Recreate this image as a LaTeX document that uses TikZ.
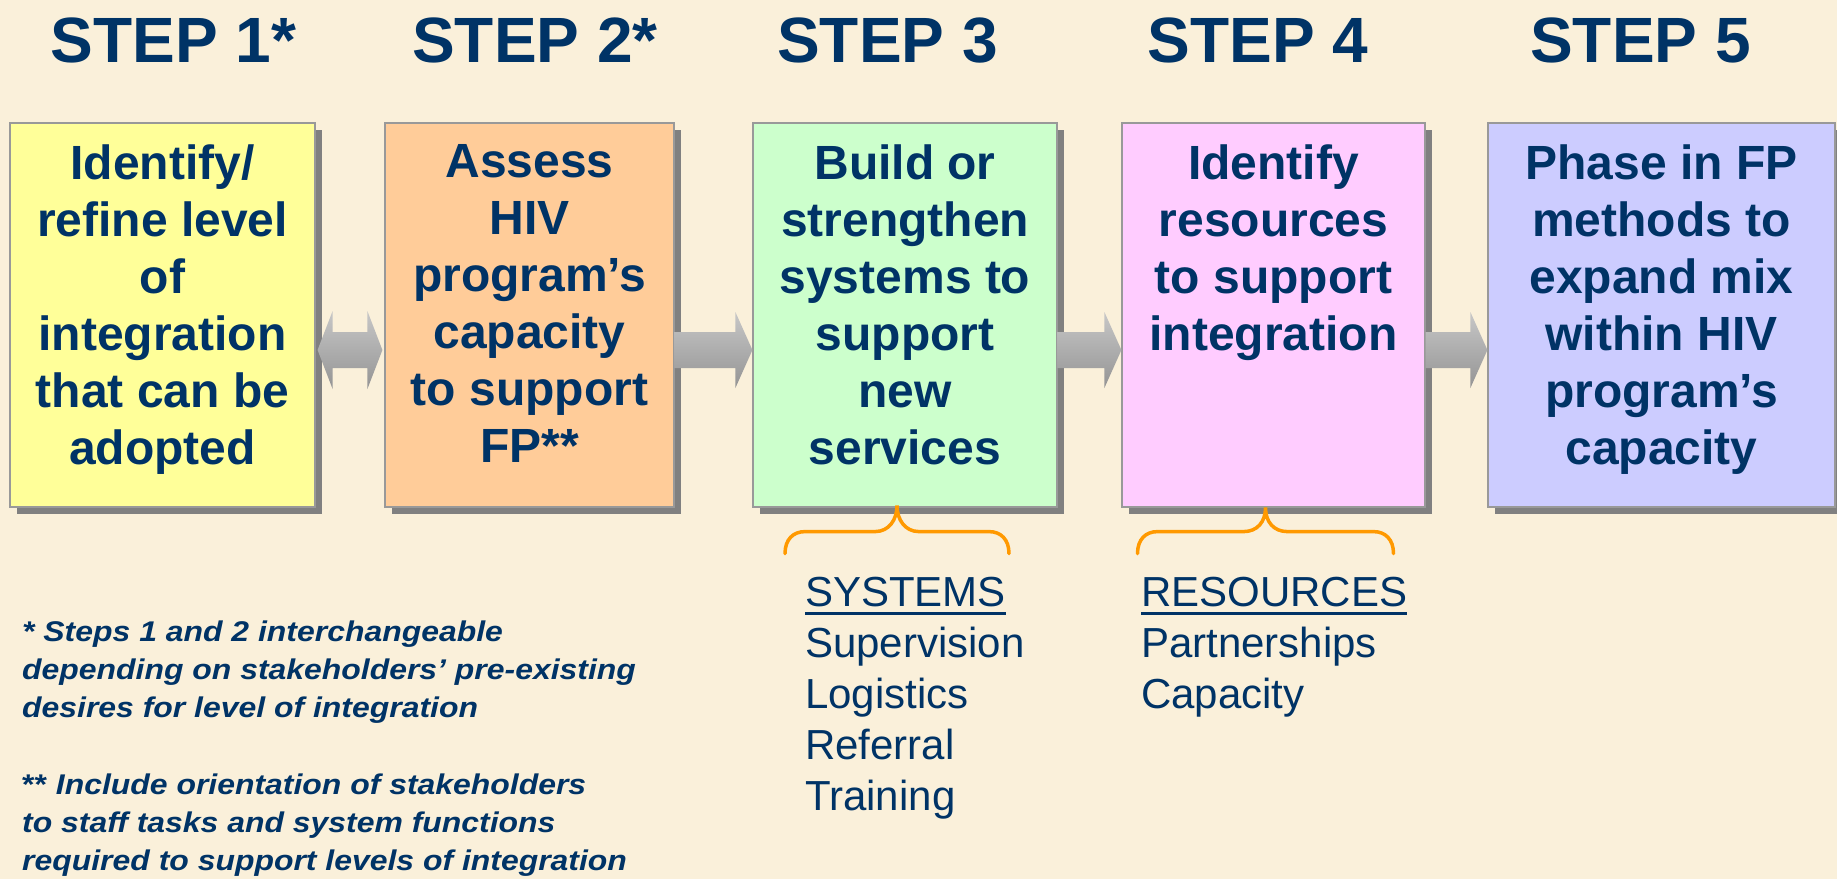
\documentclass[tikz,border=0pt]{standalone}
\usepackage{fontspec}
\setmainfont{Liberation Sans}
\newfontfamily\notefont[FakeStretch=1.12]{Liberation Sans}
\usepackage{xcolor}
\usetikzlibrary{shadows,calc,positioning}

\definecolor{stepnavy}{RGB}{0,51,102}
\definecolor{parchment}{RGB}{250,240,218}
\definecolor{braceorange}{RGB}{255,153,0}
\definecolor{fillone}{RGB}{255,255,153}
\definecolor{filltwo}{RGB}{255,204,153}
\definecolor{fillthree}{RGB}{204,255,204}
\definecolor{fillfour}{RGB}{255,204,255}
\definecolor{fillfive}{RGB}{204,204,255}

\newcommand{\ulined}[1]{\setbox0=\hbox{#1}\rlap{\rule[-8pt]{\wd0}{3pt}}\box0}

\begin{document}
\begin{tikzpicture}[
    x=1pt, y=-1pt,
    stepbox/.style={rectangle, draw=black!40, line width=1.2pt, inner sep=0pt, minimum height=384pt,
        general shadow={fill=black!50, shadow xshift=7pt, shadow yshift=-7pt}},
    boxtext/.style={anchor=north, inner sep=0pt, align=center, text=stepnavy,
        font=\bfseries\fontsize{48}{57}\selectfont},
    header/.style={anchor=base, inner sep=0pt, text=stepnavy, font=\bfseries\fontsize{64}{70}\selectfont},
    listtext/.style={anchor=north west, inner sep=0pt, align=left, text=stepnavy,
        font=\fontsize{42}{51}\selectfont},
    note/.style={anchor=north west, inner sep=0pt, align=left, text=stepnavy,
        font=\notefont\bfseries\itshape\fontsize{28.5}{38}\selectfont},
    curly/.style={draw=braceorange, line width=3.5pt, line cap=round},
    blockarrow/.style={top color=black!22, bottom color=black!42}
]
\clip (0,0) rectangle (1837,879);
\fill[parchment] (0,0) rectangle (1837,879);

% Step headers
\node[header] (h1) at (173.5,62) {STEP 1*};
\node[header] (h2) at (535,62) {STEP 2*};
\node[header] (h3) at (887.5,62) {STEP 3};
\node[header] (h4) at (1258,62) {STEP 4};
\node[header] (h5) at (1640.5,62) {STEP 5};

% Step boxes
\node[stepbox, fill=fillone, minimum width=305pt] (b1) at (162.5,315) {};
\node[stepbox, fill=filltwo, minimum width=289pt] (b2) at (529.5,315) {};
\node[stepbox, fill=fillthree, minimum width=304pt] (b3) at (905,315) {};
\node[stepbox, fill=fillfour, minimum width=303pt] (b4) at (1273.5,315) {};
\node[stepbox, fill=fillfive, minimum width=347pt] (b5) at (1661.5,315) {};

% Box texts
\node[boxtext] (t1) at ($(b1.north)+(0,22)$) {Identify/\\refine level\\of\\integration\\that can be\\adopted};
\node[boxtext] (t2) at ($(b2.north)+(0,22)$) {Assess\\HIV\\program’s\\capacity\\to support\\FP**};
\node[boxtext] (t3) at ($(b3.north)+(0,22)$) {Build or\\strengthen\\systems to\\support\\new\\services};
\node[boxtext] (t4) at ($(b4.north)+(0,22)$) {Identify\\resources\\to support\\integration};
\node[boxtext] (t5) at ($(b5.north)+(0,22)$) {Phase in FP\\methods to\\expand mix\\within HIV\\program’s\\capacity};

% Arrows between steps
\shade[blockarrow] ($(b1.east)+(2,35)$) -- ++(15,-39) -- ++(0,21) -- ($(b2.west)+(-17,17)$) -- ++(0,-21)
    -- ($(b2.west)+(-2,35)$) -- ++(-15,39) -- ++(0,-21) -- ($(b1.east)+(17,53)$) -- ++(0,21) -- cycle;
\foreach \a/\b in {b2/b3,b3/b4,b4/b5}
  \shade[blockarrow] ($(\a.east)+(0,17)$) -- ($(\b.west)+(-17,17)$) -- ++(0,-20) -- ($(\b.west)+(0,35)$)
    -- ($(\b.west)+(-17,73)$) -- ++(0,-20) -- ($(\a.east)+(0,53)$) -- cycle;

% Braces
\coordinate (c3) at ($(b3.south)+(-8,-2)$);
\coordinate (c4) at ($(b4.south)+(-8,0)$);
\draw[curly] ($(c3)+(-112,48)$) .. controls +(0,-14) and +(-12,0) .. ++(20,-22) -- ++(70,0)
    .. controls +(14,0) and +(0,14) .. ++(22,-26) .. controls +(0,14) and +(-14,0) .. ++(22,26)
    -- ++(70,0) .. controls +(12,0) and +(0,-14) .. ++(20,22);
\draw[curly] ($(c4)+(-128,46)$) .. controls +(0,-14) and +(-12,0) .. ++(20,-22) -- ++(86,0)
    .. controls +(14,0) and +(0,14) .. ++(22,-24) .. controls +(0,14) and +(-14,0) .. ++(22,24)
    -- ++(86,0) .. controls +(12,0) and +(0,-14) .. ++(20,22);

% Lists
\node[listtext] (sys) at (805,577) {\ulined{SYSTEMS}\\Supervision\\Logistics\\Referral\\Training};
\node[listtext] (res) at (1141,577) {\ulined{RESOURCES}\\Partnerships\\Capacity};

% Notes
\node[note] (n1) at (22,621) {* Steps 1 and 2 interchangeable\\depending on stakeholders’ pre-existing\\desires for level of integration};
\node[note] (n2) at (22,774) {{\upshape**} Include orientation of stakeholders\\to staff tasks and system functions\\required to support levels of integration};
\end{tikzpicture}
\end{document}
